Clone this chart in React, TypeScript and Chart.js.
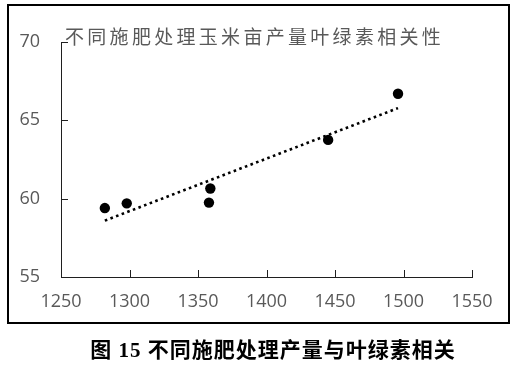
import React, { useEffect, useRef } from "react";
import { Chart, registerables } from "chart.js";

Chart.register(...registerables);

const chartTitle = "不同施肥处理玉米亩产量叶绿素相关性";
const caption = "图 15 不同施肥处理产量与叶绿素相关";

// yield (x) and chlorophyll (y) for each treatment
const yieldValues = [1282, 1298, 1358, 1359, 1445, 1496];
const chlorophyllValues = [59.4, 59.7, 59.75, 60.65, 63.75, 66.7];

// linear trendline end points
const trendX = [1282, 1496];
const trendY = [58.6, 65.78];

const xMin = 1250, xMax = 1550, xStep = 50;
const yMin = 55, yMax = 70, yStep = 5;

const AXIS_COLOR = "#1f1f1f";
const LABEL_COLOR = "#595959";

const innerTicks = {
  id: "innerTicks",
  afterDatasetsDraw(chart: any) {
    const { ctx, chartArea } = chart;
    const xs = chart.scales.x;
    const ys = chart.scales.y;
    ctx.save();
    ctx.strokeStyle = AXIS_COLOR;
    ctx.lineWidth = 1;
    xs.ticks.forEach((t: any) => {
      const px = Math.round(xs.getPixelForValue(t.value)) + 0.5;
      ctx.beginPath();
      ctx.moveTo(px, chartArea.bottom);
      ctx.lineTo(px, chartArea.bottom - 7);
      ctx.stroke();
    });
    ys.ticks.forEach((t: any) => {
      const py = Math.round(ys.getPixelForValue(t.value)) + 0.5;
      ctx.beginPath();
      ctx.moveTo(chartArea.left, py);
      ctx.lineTo(chartArea.left + 7, py);
      ctx.stroke();
    });
    ctx.restore();
  },
};

const overlayTitle = {
  id: "overlayTitle",
  afterDraw(chart: any) {
    const { ctx } = chart;
    ctx.save();
    ctx.font = '19px "Noto Sans CJK SC", sans-serif';
    (ctx as any).letterSpacing = "3.3px";
    ctx.fillStyle = LABEL_COLOR;
    ctx.textAlign = "left";
    ctx.textBaseline = "middle";
    ctx.fillText(chartTitle, 65, 37);
    ctx.restore();
  },
};

export default function App() {
  const ref = useRef<HTMLCanvasElement | null>(null);

  useEffect(() => {
    if (!ref.current) return;
    const points = yieldValues.map((x, i) => ({ x, y: chlorophyllValues[i] }));
    const trend = trendX.map((x, i) => ({ x, y: trendY[i] }));
    const chart = new Chart(ref.current, {
      type: "scatter",
      data: {
        datasets: [
          {
            type: "line",
            data: trend,
            borderColor: "#000",
            borderWidth: 2.6,
            borderDash: [2.6, 3.4],
            pointRadius: 0,
            fill: false,
            order: 2,
          } as any,
          {
            data: points,
            backgroundColor: "#000",
            borderColor: "#000",
            borderWidth: 0,
            pointRadius: 5.2,
            order: 1,
          },
        ],
      },
      options: {
        animation: false,
        responsive: false,
        maintainAspectRatio: false,
        layout: { padding: { left: 0, top: 42, right: 48, bottom: 0 } },
        plugins: { legend: { display: false }, tooltip: { enabled: false }, title: { display: false } },
        scales: {
          x: {
            type: "linear",
            min: xMin,
            max: xMax,
            grid: { display: false, drawTicks: false },
            border: { display: true, color: AXIS_COLOR, width: 1 },
            ticks: {
              stepSize: xStep,
              color: LABEL_COLOR,
              padding: 14,
              maxRotation: 0,
              font: { family: '"Open Sans", sans-serif', size: 18 },
              callback: (v: any) => String(v),
            },
            afterFit: (s: any) => { s.height = 53; },
          },
          y: {
            type: "linear",
            min: yMin,
            max: yMax,
            grid: { display: false, drawTicks: false },
            border: { display: true, color: AXIS_COLOR, width: 1 },
            ticks: {
              stepSize: yStep,
              color: LABEL_COLOR,
              padding: 21,
              font: { family: '"Open Sans", sans-serif', size: 18 },
              callback: (v: any) => String(v),
            },
            afterFit: (s: any) => { s.width = 61; },
          },
        },
      },
      plugins: [innerTicks, overlayTitle],
    });
    return () => chart.destroy();
  }, []);

  return (
    <div style={{ position: "fixed", left: 0, top: 0, width: 520, height: 374, background: "#fff" }}>
      <div
        style={{
          position: "absolute",
          left: 7,
          top: 4,
          width: 503,
          height: 320,
          boxSizing: "border-box",
          border: "2px solid #000",
        }}
      />
      <canvas
        ref={ref}
        width={520}
        height={330}
        style={{ position: "absolute", left: 0, top: 0, width: 520, height: 330 }}
      />
      <div
        style={{
          position: "absolute",
          left: 0,
          top: 337,
          width: 546,
          textAlign: "center",
          whiteSpace: "nowrap",
          fontFamily: '"Liberation Serif", "Noto Sans CJK SC", serif',
          fontWeight: "bold",
          fontSize: 21,
          letterSpacing: "1px",
          lineHeight: "26px",
          color: "#000",
        }}
      >
        {caption}
      </div>
    </div>
  );
}
